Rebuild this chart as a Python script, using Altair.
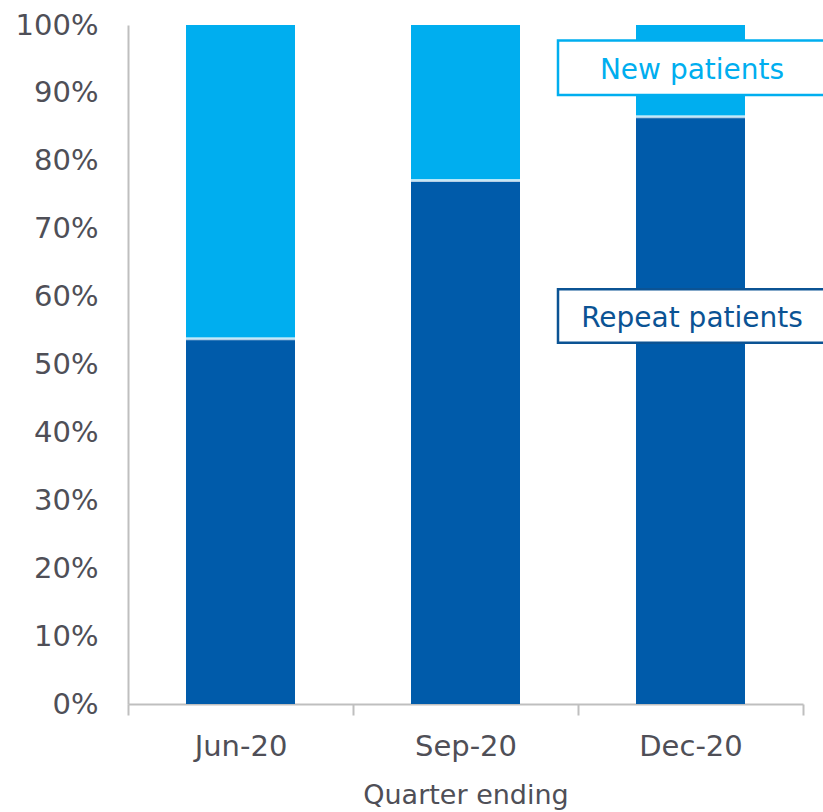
import altair as alt
import pandas as pd

quarters = ["Jun-20", "Sep-20", "Dec-20"]
repeat_share = [0.538, 0.771, 0.865]
new_share = [1 - v for v in repeat_share]
series_names = ["Repeat patients", "New patients"]
series_colors = ["#005BAA", "#00AEEF"]

rows = []
for q, r, n in zip(quarters, repeat_share, new_share):
    rows.append({"quarter": q, "series": "Repeat patients", "value": r, "order": 0})
    rows.append({"quarter": q, "series": "New patients", "value": n, "order": 1})
df = pd.DataFrame(rows)
bound = pd.DataFrame({"quarter": quarters, "value": repeat_share})

FONT = "DejaVu Sans"
GREY = "#4f4f57"
AXIS = "#bfbfbf"

x_enc = alt.X("quarter:N", sort=quarters, title="Quarter ending",
              scale=alt.Scale(paddingInner=0, paddingOuter=0),
              axis=alt.Axis(labelAngle=0, domainColor=AXIS, domainWidth=2,
                            tickColor=AXIS, tickWidth=2, tickSize=11, tickBand="extent",
                            labelFont=FONT, labelFontSize=29, labelColor=GREY,
                            labelPadding=17, titleFont=FONT, titleFontSize=27,
                            titleFontWeight="normal", titleColor=GREY, titlePadding=21))

bars = alt.Chart(df).mark_bar(size=109).encode(
    x=x_enc,
    y=alt.Y("value:Q", stack="zero", title=None,
            scale=alt.Scale(domain=[0, 1], nice=False),
            axis=alt.Axis(values=[i / 10 for i in range(11)], format=".0%",
                          grid=False, ticks=False, domainColor=AXIS, domainWidth=2,
                          labelFont=FONT, labelFontSize=29, labelColor=GREY,
                          labelPadding=30)),
    color=alt.Color("series:N", scale=alt.Scale(domain=series_names, range=series_colors),
                    legend=None),
    order=alt.Order("order:Q"),
)

sep = alt.Chart(bound).mark_tick(orient="horizontal", thickness=3, size=110,
                                 color="white").encode(
    x=alt.X("quarter:N", sort=quarters),
    y=alt.Y("value:Q"),
)

def label_box(text, y0, y1, yc, color):
    box = alt.Chart(pd.DataFrame({"a": [0]})).mark_rect(
        fill="white", stroke=color, strokeWidth=2.5).encode(
        x=alt.value(430), x2=alt.value(720),
        y=alt.datum(y0), y2=alt.datum(y1))
    txt = alt.Chart(pd.DataFrame({"a": [0]})).mark_text(
        text=text, font=FONT, fontSize=28, color=color, align="center",
        baseline="middle").encode(x=alt.value(564), y=alt.datum(yc))
    return box + txt

new_lbl = label_box("New patients", 0.897, 0.977, 0.932, "#00AEEF")
rep_lbl = label_box("Repeat patients", 0.532, 0.611, 0.567, "#0B5394")

chart = alt.layer(bars, sep, new_lbl, rep_lbl).properties(
    width=675, height=679,
    background="white",
    autosize=alt.AutoSizeParams(type="none"),
    padding={"left": 128, "top": 25, "right": 20, "bottom": 108},
).configure_view(strokeWidth=0, stroke="transparent")

chart.save("out.html", embed_options={"renderer": "svg", "actions": False})
